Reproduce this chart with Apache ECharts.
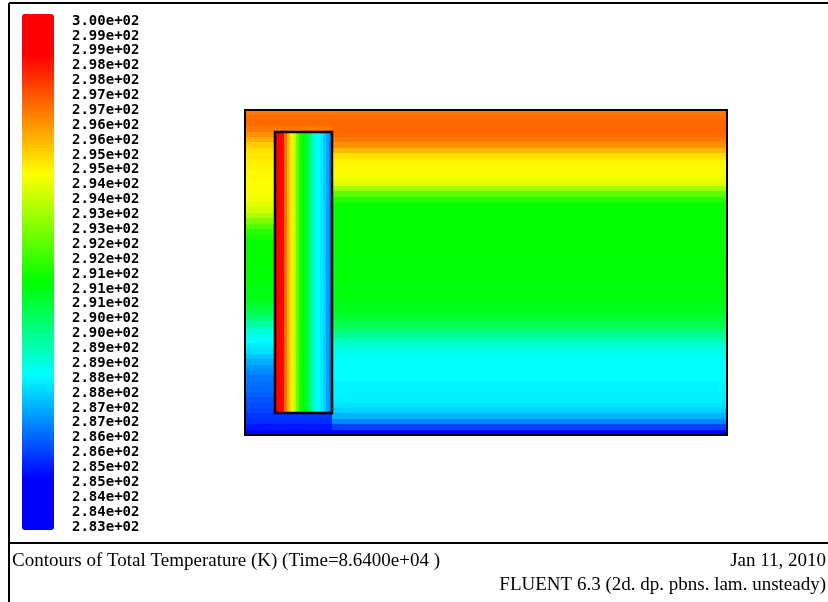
<!DOCTYPE html>
<html>
<head>
<meta charset="utf-8">
<title>Contours of Total Temperature</title>
<script src="https://cdn.jsdelivr.net/npm/echarts@6.0.0/dist/echarts.min.js"></script>
<style>
  html, body { margin: 0; padding: 0; background: #fff; }
  #chart { width: 828px; height: 602px; }
</style>
</head>
<body>
<div id="chart"></div>
<script>
// Colour-bar level labels, top to bottom (K)
const levelLabels = [
  '3.00e+02', '2.99e+02', '2.99e+02', '2.98e+02', '2.98e+02', '2.97e+02', '2.97e+02',
  '2.96e+02', '2.96e+02', '2.95e+02', '2.95e+02', '2.94e+02', '2.94e+02', '2.93e+02',
  '2.93e+02', '2.92e+02', '2.92e+02', '2.91e+02', '2.91e+02', '2.91e+02', '2.90e+02',
  '2.90e+02', '2.89e+02', '2.89e+02', '2.88e+02', '2.88e+02', '2.87e+02', '2.87e+02',
  '2.86e+02', '2.86e+02', '2.85e+02', '2.85e+02', '2.84e+02', '2.84e+02', '2.83e+02'
];

// Temperature range of the contour map (K)
const tempMin = 283;
const tempMax = 300;

// Cavity mesh: 160 columns x 60 rows
const nCols = 160;
const nRows = 60;

// Heated block, in cell indices [col0, row0, col1, row1]
const blockCells = [10, 4, 28, 55];

// Open fluid, temperature by row, top to bottom (K)
const fluidProfile = [
  296.8, 297.0, 297.1, 297.1, 297.0, 296.8, 296.4, 295.8, 295.2, 294.9,
  294.8, 294.7, 294.6, 294.3, 293.4, 292.4, 291.7, 291.3, 291.2, 291.2,
  291.2, 291.2, 291.2, 291.2, 291.2, 291.2, 291.2, 291.1, 291.1, 291.1,
  291.1, 291.1, 291.0, 291.0, 291.0, 290.9, 290.9, 290.7, 290.5, 290.2,
  289.9, 289.4, 288.9, 288.6, 288.4, 288.2, 288.1, 288.1, 288.1, 288.1,
  288.0, 288.0, 287.9, 287.9, 287.7, 287.5, 287.1, 286.5, 285.6, 284.5
];

// Strip between the left wall and the block, by row, top to bottom (K)
const wallProfile = [
  296.8, 297.0, 297.0, 296.8, 296.4, 296.0, 295.5, 295.2, 295.1, 295.0,
  294.9, 294.8, 294.8, 294.7, 294.7, 294.6, 294.5, 294.3, 294.1, 293.6,
  292.9, 292.3, 291.7, 291.4, 291.2, 291.2, 291.2, 291.2, 291.2, 291.1,
  291.1, 291.1, 291.0, 290.9, 290.9, 290.7, 290.5, 290.1, 289.7, 289.2,
  288.7, 288.4, 288.1, 287.9, 287.7, 287.3, 287.0, 286.7, 286.5, 286.3,
  286.2, 286.1, 286.0, 285.8, 285.7, 285.6, 285.4, 285.3, 285.0, 284.6
];

// Across the heated block, left to right (K)
const blockProfile = [
  300.0, 299.6, 298.6, 297.0, 295.8, 294.9, 294.0, 292.6, 291.5, 291.2,
  290.7, 289.9, 289.0, 288.3, 288.1, 287.8, 287.4, 286.9, 286.5
];

// Rainbow colour scale: [position on the bar, colour]
const rampStops = [
  [0.00, [0, 0, 255]],
  [0.10, [0, 0, 255]],
  [0.30, [0, 255, 255]],
  [0.48, [0, 255, 0]],
  [0.69, [255, 255, 0]],
  [0.92, [255, 0, 0]],
  [1.00, [255, 0, 0]]
];

// Footer annotations
const captionLeft = 'Contours of Total Temperature (K) (Time=8.6400e+04 )';
const captionDate = 'Jan 11, 2010';
const captionSolver = 'FLUENT 6.3 (2d. dp. pbns. lam. unsteady)';

// ---- colour list for the visual map ----
function rampColor(t) {
  for (let i = 1; i < rampStops.length; i++) {
    const [t1, c1] = rampStops[i];
    const [t0, c0] = rampStops[i - 1];
    if (t <= t1 + 1e-9) {
      const f = t1 > t0 ? (t - t0) / (t1 - t0) : 0;
      const c = c0.map((v, k) => Math.round(v + (c1[k] - v) * f));
      return 'rgb(' + c.join(',') + ')';
    }
  }
  return 'rgb(255,0,0)';
}
const rampColors = [];
for (let i = 0; i <= 100; i++) rampColors.push(rampColor(i / 100));

// ---- build the cell field ----
const colIds = [];
for (let c = 0; c < nCols; c++) colIds.push(c);
const rowIds = [];
for (let r = 0; r < nRows; r++) rowIds.push(r);

const [bc0, br0, bc1, br1] = blockCells;
const field = [];
for (let r = 0; r < nRows; r++) {
  for (let c = 0; c < nCols; c++) {
    let t;
    if (c >= bc0 && c <= bc1 && r >= br0 && r <= br1) t = blockProfile[c - bc0];
    else if (c <= bc1) t = wallProfile[r];
    else t = fluidProfile[r];
    field.push([c, r, t]);
  }
}

const outlines = [
  [0, 0, nCols - 1, nRows - 1],
  blockCells.slice()
];

// cell bounds snapped to whole pixels so neighbouring cells share edges
function cellBox(api, c0, r0, c1, r1) {
  const a = api.coord([c0, r0]);
  const b = api.coord([c1, r1]);
  const s = api.size([1, 1]);
  const x0 = Math.round(a[0] - s[0] / 2), x1 = Math.round(b[0] + s[0] / 2);
  const y0 = Math.round(a[1] - s[1] / 2), y1 = Math.round(b[1] + s[1] / 2);
  return { x: x0, y: y0, width: x1 - x0, height: y1 - y0 };
}

const chart = echarts.init(document.getElementById('chart'), null, { renderer: 'canvas' });

chart.setOption({
  animation: false,
  backgroundColor: '#ffffff',
  grid: [
    { left: 245, top: 110, width: 482, height: 325 },
    { left: 60, top: 21, width: 6, height: 506 }
  ],
  xAxis: [
    { type: 'category', gridIndex: 0, data: colIds, show: false },
    { type: 'value', gridIndex: 1, show: false }
  ],
  yAxis: [
    { type: 'category', gridIndex: 0, data: rowIds, inverse: true, show: false },
    {
      type: 'category', gridIndex: 1, data: levelLabels, inverse: true,
      boundaryGap: false, position: 'right',
      axisLine: { show: false }, axisTick: { show: false }, splitLine: { show: false },
      axisLabel: {
        interval: 0, margin: 6, color: '#000',
        fontFamily: '"DejaVu Sans Mono", "Liberation Mono", monospace',
        fontWeight: 'bold', fontSize: 14
      }
    }
  ],
  visualMap: {
    type: 'continuous',
    min: tempMin,
    max: tempMax,
    dimension: 2,
    seriesIndex: 0,
    calculable: false,
    hoverLink: false,
    orient: 'vertical',
    left: 22,
    top: 14,
    padding: 0,
    itemWidth: 32,
    itemHeight: 516,
    inRange: { color: rampColors }
  },
  series: [
    {
      type: 'custom',
      xAxisIndex: 0,
      yAxisIndex: 0,
      data: field,
      encode: { x: 0, y: 1 },
      silent: true,
      progressive: 0,
      renderItem: function (params, api) {
        const c = api.value(0), r = api.value(1);
        return {
          type: 'rect',
          shape: cellBox(api, c, r, c, r),
          style: { fill: api.visual('color'), stroke: null }
        };
      }
    },
    {
      type: 'custom',
      xAxisIndex: 0,
      yAxisIndex: 0,
      data: outlines,
      encode: { x: [0, 2], y: [1, 3] },
      z: 5,
      silent: true,
      renderItem: function (params, api) {
        return {
          type: 'rect',
          shape: cellBox(api, api.value(0), api.value(1), api.value(2), api.value(3)),
          style: { fill: 'none', stroke: '#000', lineWidth: params.dataIndex === 0 ? 2 : 2.5 }
        };
      }
    },
    {
      type: 'line',
      xAxisIndex: 1,
      yAxisIndex: 1,
      data: [],
      silent: true
    }
  ],
  graphic: [
    { type: 'line', shape: { x1: 9, y1: 3, x2: 828, y2: 3 }, style: { stroke: '#000', lineWidth: 2 } },
    { type: 'line', shape: { x1: 9, y1: 3, x2: 9, y2: 602 }, style: { stroke: '#000', lineWidth: 2 } },
    { type: 'line', shape: { x1: 9, y1: 543, x2: 828, y2: 543 }, style: { stroke: '#000', lineWidth: 2 } },
    {
      type: 'text', x: 12, y: 571,
      style: { text: captionLeft, font: '19px "Liberation Serif", serif', fill: '#000', textAlign: 'left', textVerticalAlign: 'bottom' }
    },
    {
      type: 'text', x: 826, y: 571,
      style: { text: captionDate, font: '19px "Liberation Serif", serif', fill: '#000', textAlign: 'right', textVerticalAlign: 'bottom' }
    },
    {
      type: 'text', x: 826, y: 595,
      style: { text: captionSolver, font: '19px "Liberation Serif", serif', fill: '#000', textAlign: 'right', textVerticalAlign: 'bottom' }
    }
  ]
});
</script>
</body>
</html>
